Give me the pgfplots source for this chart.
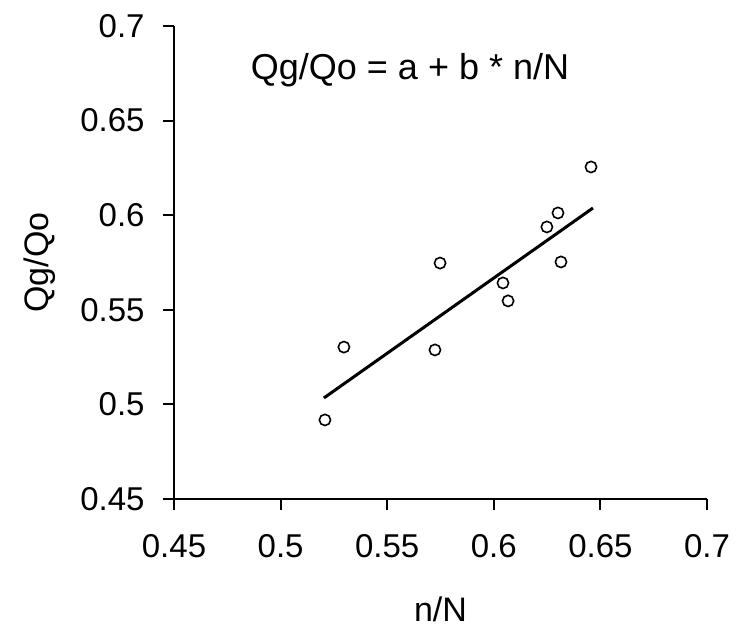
\documentclass[border=0pt]{standalone}
\usepackage{pgfplots}
\pgfplotsset{compat=1.18}
\usepackage{fontspec}
\setmainfont{Liberation Sans}
\begin{document}
\begin{tikzpicture}
\begin{axis}[
  scale only axis,
  width=266.5pt, height=236.5pt,
  xmin=0.45, xmax=0.7, ymin=0.45, ymax=0.7,
  axis x line*=bottom, axis y line*=left,
  axis line style={-, line width=1pt, black},
  xtick={0.45,0.5,0.55,0.6,0.65,0.7},
  ytick={0.45,0.5,0.55,0.6,0.65,0.7},
  tick align=outside, major tick length=5.5pt,
  tick style={line width=1pt, black},
  /pgf/number format/assume math mode=true,
  /pgf/number format/fixed, /pgf/number format/precision=2,
  ticklabel style={font=\fontsize{16.5}{19}\selectfont, inner sep=0pt},
  yticklabel style={anchor=east, xshift=-9pt},
  xticklabel style={anchor=north, yshift=-12pt},
  xlabel={n/N}, ylabel={Qg/Qo},
  label style={font=\fontsize{17}{20}\selectfont},
  xlabel style={at={(axis description cs:0.5,0)}, anchor=center, yshift=-55pt},
  ylabel style={at={(axis description cs:0,0.5)}, anchor=center, yshift=67pt},
  clip=false,
]
\addplot[only marks, mark=o, mark size=2.8pt, mark options={line width=0.8pt, fill=white}, black] coordinates {
(0.5208,0.4918) (0.5297,0.5303) (0.5724,0.5288) (0.5748,0.5747) (0.6043,0.5642)
(0.6067,0.5547) (0.6249,0.5938) (0.6301,0.6012) (0.6315,0.5753) (0.6456,0.6255)
};
\addplot[black, line width=1.5pt] coordinates {(0.5203,0.5034) (0.6465,0.6038)};
\node[font=\fontsize{18}{21}\selectfont, anchor=center] at (axis cs:0.5607,0.6767) {Qg/Qo = a + b * n/N};
\end{axis}
\pgfresetboundingbox
\path ([shift={(-87pt,-64.5pt)}]current axis.south west) rectangle ([shift={(14.5pt,13pt)}]current axis.north east);
\end{tikzpicture}
\end{document}
